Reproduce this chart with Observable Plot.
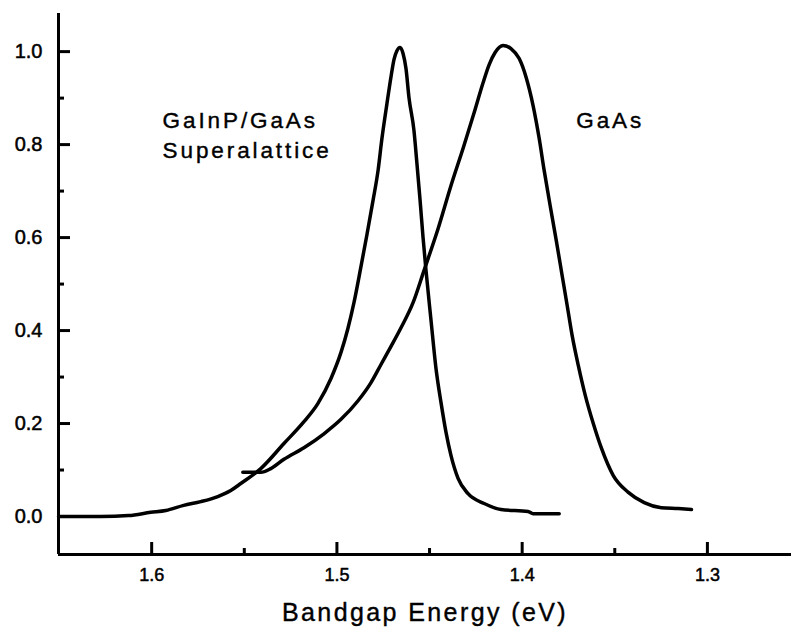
<!DOCTYPE html>
<html>
<head>
<meta charset="utf-8">
<script src="https://cdn.jsdelivr.net/npm/d3@7"></script>
<script src="https://cdn.jsdelivr.net/npm/@observablehq/plot@0.6"></script>
<style>
  html, body { margin: 0; padding: 0; background: #fff; }
  #chart svg { display: block; font-family: "Liberation Sans", Arial, Helvetica, sans-serif; }
</style>
</head>
<body>
<div id="chart"></div>
<script>
// Photoluminescence spectra: normalized intensity vs bandgap energy (eV)

// GaInP/GaAs superlattice spectrum (narrow peak)
const slEnergy = [1.6503, 1.6276, 1.6124, 1.6005, 1.5924, 1.5827, 1.5735, 1.5643, 1.5573, 1.5519,
  1.5411, 1.5286, 1.5178, 1.5103, 1.5032, 1.4978, 1.4941, 1.4908, 1.4870, 1.4838,
  1.4805, 1.4778, 1.4757, 1.4730, 1.4708, 1.4692, 1.4676, 1.4659, 1.4643, 1.4627,
  1.4611, 1.4584, 1.4568, 1.4551, 1.4535, 1.4519, 1.4492, 1.4465, 1.4438, 1.4411,
  1.4384, 1.4346, 1.4292, 1.4205, 1.4114, 1.3968, 1.3941, 1.3800];
const slIntensity = [0.000, 0.000, 0.002, 0.009, 0.013, 0.024, 0.032, 0.043, 0.056, 0.071,
  0.103, 0.157, 0.204, 0.243, 0.297, 0.353, 0.404, 0.460, 0.538, 0.606,
  0.680, 0.744, 0.813, 0.888, 0.946, 0.983, 1.002, 1.009, 0.996, 0.963,
  0.901, 0.830, 0.759, 0.680, 0.600, 0.529, 0.422, 0.318, 0.245, 0.181,
  0.131, 0.082, 0.049, 0.028, 0.015, 0.011, 0.006, 0.006];

// GaAs spectrum (broad peak)
const gaasEnergy = [1.5508, 1.5411, 1.5357, 1.5286, 1.5178, 1.5070, 1.4978, 1.4886, 1.4816, 1.4762,
  1.4708, 1.4654, 1.4589, 1.4530, 1.4454, 1.4384, 1.4314, 1.4259, 1.4211, 1.4178,
  1.4146, 1.4103, 1.4059, 1.4016, 1.3978, 1.3941, 1.3908, 1.3881, 1.3849, 1.3816,
  1.3784, 1.3757, 1.3730, 1.3697, 1.3659, 1.3616, 1.3573, 1.3508, 1.3427, 1.3341,
  1.3249, 1.3157, 1.3086];
const gaasIntensity = [0.095, 0.095, 0.103, 0.123, 0.148, 0.178, 0.209, 0.249, 0.288, 0.327,
  0.366, 0.406, 0.460, 0.529, 0.619, 0.712, 0.798, 0.869, 0.933, 0.972,
  0.998, 1.013, 1.006, 0.985, 0.944, 0.884, 0.813, 0.744, 0.669, 0.594,
  0.518, 0.454, 0.389, 0.325, 0.260, 0.200, 0.148, 0.088, 0.052, 0.030,
  0.019, 0.017, 0.015];

// Axis ticks
const xMajorTicks = [1.6, 1.5, 1.4, 1.3];
const xMinorTicks = [1.55, 1.45, 1.35];
const yMajorTicks = [0.0, 0.2, 0.4, 0.6, 0.8, 1.0];
const yMinorTicks = [0.1, 0.3, 0.5, 0.7, 0.9];

// Curve labels
const labelText = ["GaInP/GaAs\nSuperalattice", "GaAs"];
const labelEnergy = [1.5941, 1.3708];
const labelIntensity = [0.882, 0.882];

const xDomain = [1.6503, 1.2546];
const yDomain = [-0.0817, 1.082];

const superlattice = slEnergy.map((e, i) => ({energy: e, intensity: slIntensity[i]}));
const gaas = gaasEnergy.map((e, i) => ({energy: e, intensity: gaasIntensity[i]}));
const labels = labelText.map((t, i) => ({text: t, energy: labelEnergy[i], intensity: labelIntensity[i]}));

const W = 791, H = 632;
const mL = 58, mR = 0, mT = 13, mB = 78;
const frameW = W - mL - mR, frameH = H - mT - mB;

// tick lengths in pixels, expressed in data units along each axis
const pxX = (xDomain[0] - xDomain[1]) / frameW;
const pxY = (yDomain[1] - yDomain[0]) / frameH;
const major = 12, minor = 6;

const chart = Plot.plot({
  width: W,
  height: H,
  marginLeft: mL,
  marginRight: mR,
  marginTop: mT,
  marginBottom: mB,
  x: {domain: xDomain, axis: null},
  y: {domain: yDomain, axis: null},
  marks: [
    // axis lines
    Plot.ruleX([xDomain[0]], {stroke: "#000", strokeWidth: 3}),
    Plot.ruleY([yDomain[0]], {stroke: "#000", strokeWidth: 3}),
    // inward tick marks
    Plot.ruleY(yMajorTicks, {y: d => d, x1: xDomain[0], x2: xDomain[0] - major * pxX, stroke: "#000", strokeWidth: 3}),
    Plot.ruleY(yMinorTicks, {y: d => d, x1: xDomain[0], x2: xDomain[0] - minor * pxX, stroke: "#000", strokeWidth: 3}),
    Plot.ruleX(xMajorTicks, {x: d => d, y1: yDomain[0], y2: yDomain[0] + major * pxY, stroke: "#000", strokeWidth: 3}),
    Plot.ruleX(xMinorTicks, {x: d => d, y1: yDomain[0], y2: yDomain[0] + minor * pxY, stroke: "#000", strokeWidth: 3}),
    // tick labels
    Plot.text(yMajorTicks, {y: d => d, frameAnchor: "left", dx: -16, textAnchor: "end",
      text: d3.format(".1f"), fontSize: 20, fill: "#000", stroke: "#000", strokeWidth: 0.5}),
    Plot.text(xMajorTicks, {x: d => d, frameAnchor: "bottom", dy: 14, lineAnchor: "top",
      text: d3.format(".1f"), fontSize: 18, fill: "#000", stroke: "#000", strokeWidth: 0.5}),
    // spectra
    Plot.line(superlattice, {x: "energy", y: "intensity", stroke: "#000", strokeWidth: 3.5, curve: "monotone-x"}),
    Plot.line(gaas, {x: "energy", y: "intensity", stroke: "#000", strokeWidth: 3.5, curve: "monotone-x"}),
    // curve labels
    Plot.text(labels, {x: "energy", y: "intensity", text: "text", textAnchor: "start", lineAnchor: "top",
      fontSize: 22.5, lineHeight: 1.33, fill: "#000", stroke: "#000", strokeWidth: 0.4}),
    // x axis title
    Plot.text(["Bandgap Energy (eV)"], {frameAnchor: "bottom", dy: 49, lineAnchor: "top",
      fontSize: 25, fill: "#000", stroke: "#000", strokeWidth: 0.4})
  ]
});

document.getElementById("chart").appendChild(chart);

// wider letter spacing for the curve labels and the axis title
const textGroups = d3.select(chart).selectAll('g[aria-label="text"]').nodes();
if (textGroups.length >= 4) {
  d3.select(textGroups[2]).selectAll("text").style("letter-spacing", "2.9px");
  d3.select(textGroups[3]).selectAll("text").style("letter-spacing", "2.4px");
}
</script>
</body>
</html>
